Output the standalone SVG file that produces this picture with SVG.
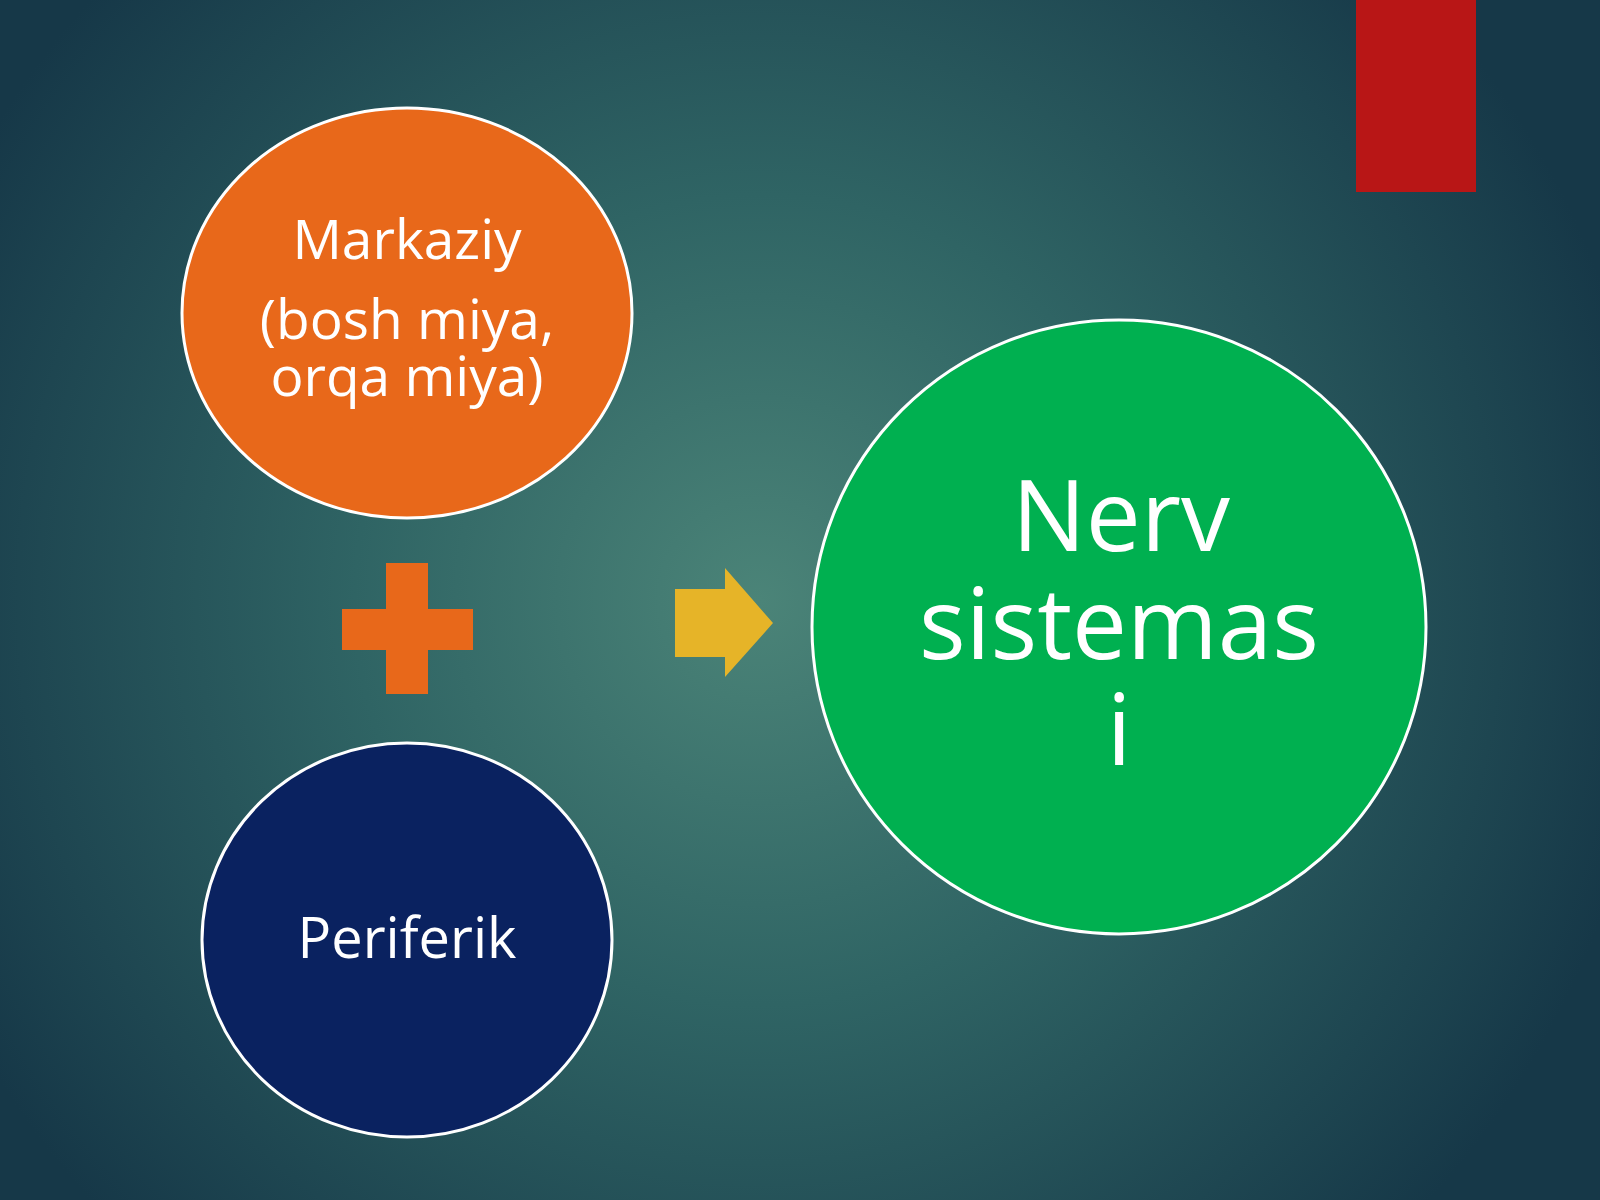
<svg xmlns="http://www.w3.org/2000/svg" width="1600" height="1200" viewBox="0 0 1600 1200">
<defs>
<radialGradient id="bg" cx="760" cy="600" r="900" gradientUnits="userSpaceOnUse">
<stop offset="0" stop-color="#4b8478"/>
<stop offset="0.45" stop-color="#2f6464"/>
<stop offset="1" stop-color="#163848"/>
</radialGradient>
<style>
.node{stroke:#ffffff;stroke-width:3}
.lbl{font-family:"Open Sans","Noto Sans","DejaVu Sans",sans-serif;fill:#ffffff;text-anchor:middle}
</style>
</defs>
<rect x="0" y="0" width="1600" height="1200" fill="url(#bg)"/>
<rect x="1356" y="0" width="120" height="192" fill="#b81616"/>
<g id="markaziy">
<ellipse class="node" cx="407" cy="313" rx="225" ry="205" fill="#e8681a"/>
<text class="lbl" x="407" y="259" font-size="55">Markaziy</text>
<text class="lbl" x="407" y="339" font-size="55">(bosh miya,</text>
<text class="lbl" x="407" y="396" font-size="55">orqa miya)</text>
</g>
<g id="plus">
<path d="M386 563H428V609H473V650H428V694H386V650H342V609H386Z" fill="#e8681a"/>
</g>
<g id="periferik">
<ellipse class="node" cx="407" cy="940" rx="205" ry="197" fill="#0a2260"/>
<text class="lbl" x="407" y="958" font-size="56">Periferik</text>
</g>
<g id="connectors">
<path d="M675 589H725V568L773 623L725 677V657H675Z" fill="#e6b428"/>
</g>
<g id="nerv">
<circle class="node" cx="1119" cy="627" r="307" fill="#00b050"/>
<text class="lbl" x="1121" y="551" font-size="98">Nerv</text>
<text class="lbl" x="1119" y="659" font-size="98">sistemas</text>
<text class="lbl" x="1119" y="765" font-size="98">i</text>
</g>
</svg>
